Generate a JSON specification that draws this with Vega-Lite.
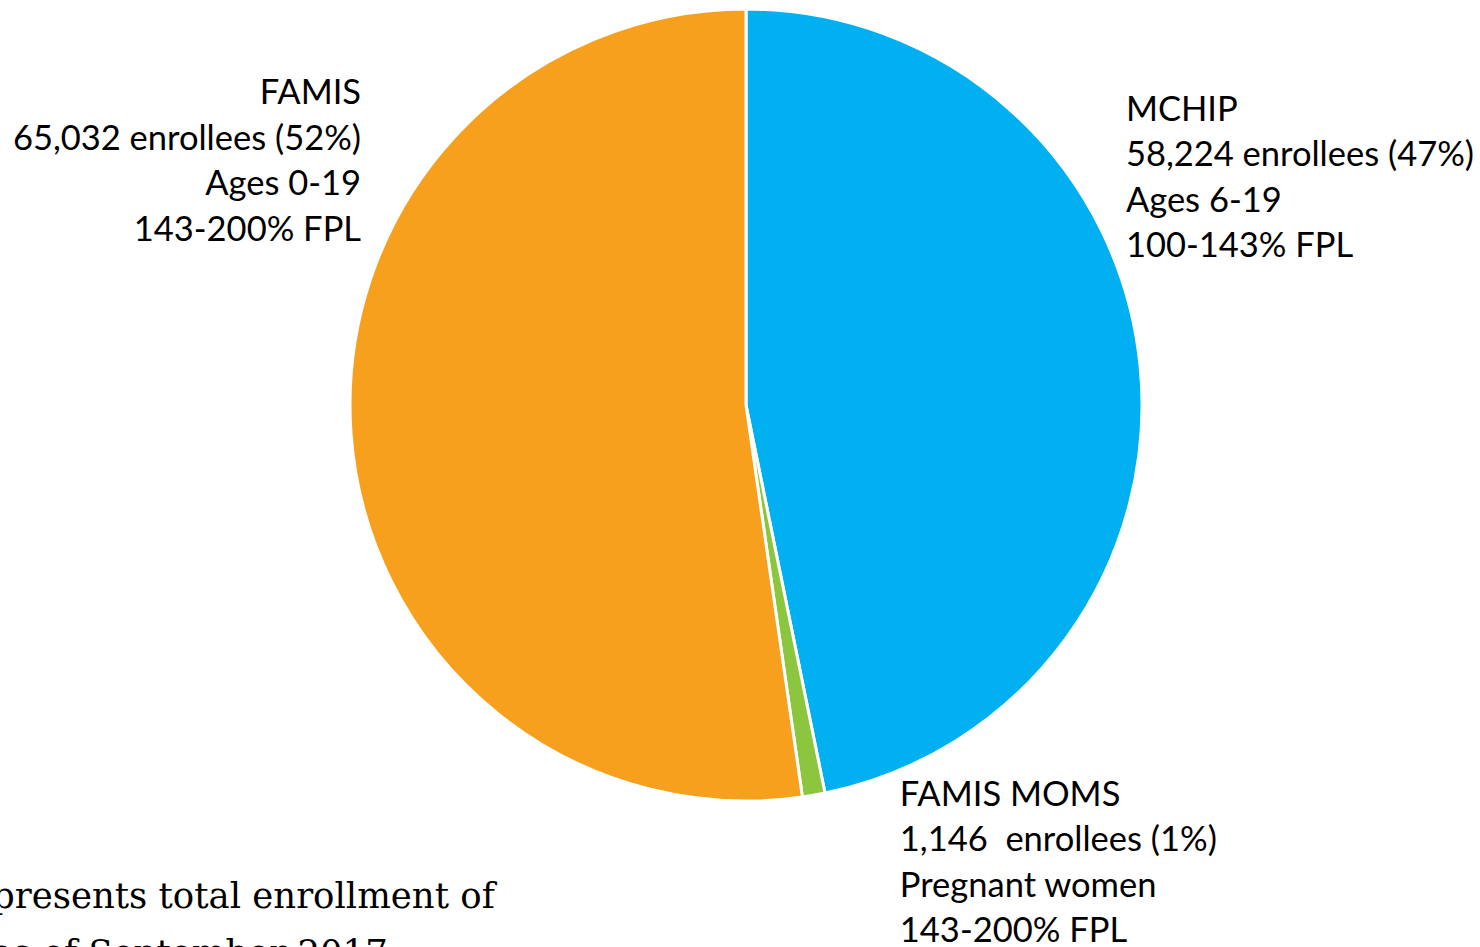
{
  "$schema": "https://vega.github.io/schema/vega-lite/v6.json",
  "width": 1468,
  "height": 810,
  "autosize": {"type": "none"},
  "padding": {"left": 12, "top": 0, "right": 0, "bottom": 137},
  "background": "white",
  "config": {"view": {"stroke": null}},
  "data": {
    "values": [
      {"program": "MCHIP", "enrollees": 58224, "ord": 1, "label": "MCHIP\n58,224 enrollees (47%)\nAges 6-19\n100-143% FPL"},
      {"program": "FAMIS MOMS", "enrollees": 1146, "ord": 2, "label": "FAMIS MOMS\n1,146\u00a0 enrollees (1%)\nPregnant women\n143-200% FPL"},
      {"program": "FAMIS", "enrollees": 65032, "ord": 3, "label": "FAMIS\n65,032 enrollees (52%)\nAges 0-19\n143-200% FPL"}
    ]
  },
  "encoding": {
    "theta": {"field": "enrollees", "type": "quantitative", "stack": true},
    "order": {"field": "ord", "type": "quantitative"}
  },
  "layer": [
    {
      "mark": {"type": "arc", "outerRadius": 396, "stroke": "white", "strokeWidth": 3},
      "encoding": {
        "color": {
          "field": "program",
          "type": "nominal",
          "scale": {"domain": ["MCHIP", "FAMIS MOMS", "FAMIS"], "range": ["#00B0F0", "#8CC63F", "#F7A01E"]},
          "legend": null
        }
      }
    },
    {
      "mark": {"type": "text", "radius": 420, "align": "left", "baseline": "alphabetic", "dx": -38, "dy": -242, "lineBreak": "\n", "lineHeight": 45.5, "font": "Lato", "fontSize": 34.5, "color": "#000000"},
      "encoding": {
        "detail": {"field": "program", "type": "nominal"},
        "text": {"condition": {"test": "datum.program === 'MCHIP'", "field": "label"}, "value": ""}
      }
    },
    {
      "mark": {"type": "text", "radius": 420, "align": "left", "baseline": "alphabetic", "dx": 82, "dy": -13, "lineBreak": "\n", "lineHeight": 45.5, "font": "Lato", "fontSize": 34.5, "color": "#000000"},
      "encoding": {
        "detail": {"field": "program", "type": "nominal"},
        "text": {"condition": {"test": "datum.program === 'FAMIS MOMS'", "field": "label"}, "value": ""}
      }
    },
    {
      "mark": {"type": "text", "radius": 420, "align": "right", "baseline": "alphabetic", "dx": 34, "dy": -331, "lineBreak": "\n", "lineHeight": 45.5, "font": "Lato", "fontSize": 34.5, "color": "#000000"},
      "encoding": {
        "detail": {"field": "program", "type": "nominal"},
        "text": {"condition": {"test": "datum.program === 'FAMIS'", "field": "label"}, "value": ""}
      }
    }
  ],
  "title": {
    "text": ["presents total enrollment of", "as of September 2017"],
    "orient": "bottom",
    "anchor": "start",
    "frame": "group",
    "baseline": "alphabetic",
    "offset": -41,
    "dx": -20,
    "font": "DejaVu Serif",
    "fontSize": 35.5,
    "fontWeight": "normal",
    "lineHeight": 57,
    "color": "#000000"
  }
}
